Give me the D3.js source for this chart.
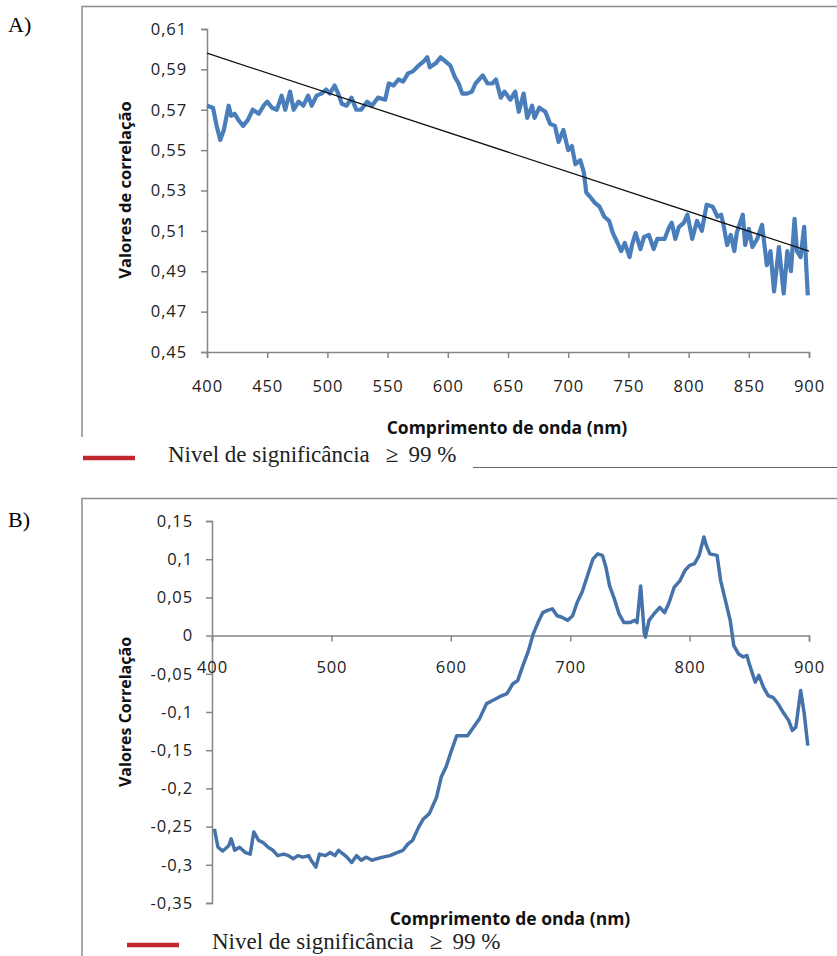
<!DOCTYPE html>
<html>
<head>
<meta charset="utf-8">
<script src="https://cdn.jsdelivr.net/npm/d3@7"></script>
<style>
  body { margin: 0; background: #fff; }
  svg { display: block; }
  .tick text { font-family: "Open Sans", sans-serif; fill: #222; }
  .axis path, .axis line { stroke: #868686; }
</style>
</head>
<body>
<script>
// Panel A: correlation vs wavelength
const nmA = [400,405,408,411,414,418,420,423,426,430,434,438,443,447,450,454,458,462,465,469,472,476,480,484,487,491,495,499,502,506,509,512,516,520,524,528,533,537,542,548,551,555,559,563,567,571,576,580,583,585,590,594,598,602,606,609,612,616,620,623,629,633,637,640,644,647,652,656,659,663,666,670,672,676,681,685,689,692,696,700,703,706,710,713,715,718,722,726,730,734,737,741,744,747,751,753,756,760,763,767,771,774,780,784,786,789,792,796,799,803,807,811,815,820,824,827,829,832,835,838,840,845,847,850,853,857,861,865,868,871,875,879,882,885,888,890,893,896,899];
const valA = [0.572,0.571,0.562,0.555,0.560,0.572,0.567,0.568,0.565,0.562,0.565,0.570,0.568,0.572,0.574,0.571,0.570,0.577,0.570,0.579,0.570,0.574,0.572,0.577,0.572,0.577,0.578,0.580,0.578,0.582,0.578,0.573,0.572,0.576,0.570,0.570,0.574,0.572,0.576,0.575,0.583,0.582,0.585,0.584,0.588,0.589,0.592,0.594,0.596,0.591,0.593,0.596,0.594,0.592,0.586,0.583,0.578,0.578,0.579,0.583,0.587,0.583,0.583,0.585,0.576,0.579,0.575,0.579,0.569,0.578,0.566,0.572,0.566,0.571,0.569,0.563,0.562,0.554,0.560,0.550,0.552,0.543,0.545,0.539,0.529,0.527,0.524,0.522,0.517,0.515,0.509,0.504,0.500,0.504,0.497,0.503,0.509,0.501,0.507,0.508,0.501,0.506,0.506,0.512,0.514,0.506,0.512,0.514,0.518,0.506,0.515,0.510,0.523,0.522,0.517,0.518,0.513,0.503,0.508,0.500,0.509,0.518,0.503,0.511,0.502,0.506,0.513,0.493,0.500,0.480,0.502,0.479,0.500,0.490,0.516,0.500,0.497,0.512,0.478];
// linear trend drawn in panel A
const trendNm = [400, 900];
const trendVal = [0.598, 0.500];
const yTicksA = [0.45,0.47,0.49,0.51,0.53,0.55,0.57,0.59,0.61];
const xTicksA = [400,450,500,550,600,650,700,750,800,850,900];

// Panel B
const nmB = [402,405,409,414,416,419,423,428,432,435,439,443,447,451,455,460,464,468,472,476,481,483,487,490,495,499,503,506,510,513,517,521,525,529,534,538,543,549,555,560,564,568,573,577,582,588,592,596,600,605,610,614,619,624,630,635,641,647,652,656,660,665,669,673,677,681,685,689,693,698,702,706,710,715,719,723,727,730,733,737,741,745,750,754,756,759,762,763,766,770,775,779,783,787,792,796,800,804,808,812,814,817,823,826,830,834,837,841,845,848,850,855,858,862,866,870,874,879,883,886,889,893,896,899];
const valB = [-0.253,-0.277,-0.282,-0.275,-0.266,-0.281,-0.277,-0.284,-0.286,-0.257,-0.268,-0.271,-0.277,-0.281,-0.288,-0.286,-0.288,-0.292,-0.288,-0.290,-0.288,-0.294,-0.303,-0.286,-0.288,-0.284,-0.288,-0.281,-0.286,-0.290,-0.297,-0.288,-0.294,-0.290,-0.294,-0.292,-0.290,-0.288,-0.284,-0.281,-0.273,-0.268,-0.251,-0.240,-0.233,-0.212,-0.185,-0.172,-0.153,-0.131,-0.131,-0.131,-0.120,-0.109,-0.089,-0.085,-0.080,-0.076,-0.063,-0.059,-0.041,-0.020,0.002,0.017,0.030,0.033,0.035,0.026,0.024,0.020,0.026,0.044,0.057,0.081,0.100,0.107,0.105,0.089,0.065,0.048,0.028,0.017,0.017,0.020,0.017,0.065,0.004,-0.002,0.020,0.028,0.037,0.030,0.044,0.063,0.072,0.085,0.092,0.094,0.105,0.129,0.118,0.107,0.105,0.072,0.046,0.020,-0.013,-0.024,-0.028,-0.026,-0.037,-0.061,-0.052,-0.068,-0.079,-0.081,-0.089,-0.102,-0.111,-0.124,-0.120,-0.072,-0.102,-0.144];
const yTicksB = [-0.35,-0.3,-0.25,-0.2,-0.15,-0.1,-0.05,0,0.05,0.1,0.15];
const xTicksB = [400,500,600,700,800,900];

const legendLabel = "Nivel de significância";
const W = 837, H = 956;

const svg = d3.select("body").append("svg").attr("width", W).attr("height", H);
const fmt = d => String(+d.toFixed(2)).replace(".", ",");

// ---------- panel A ----------
svg.append("text").attr("x", 8).attr("y", 32)
  .style("font-family", "Liberation Serif, serif").style("font-size", "22px").text("A)");
svg.append("path").attr("d", "M82,437V6.5H837").attr("fill", "none").attr("stroke", "#8c8c8c").attr("stroke-width", 1.5);

const xA = d3.scaleLinear().domain([400, 900]).range([207, 809]);
const yA = d3.scaleLinear().domain([0.45, 0.61]).range([352, 29]);

const gyA = svg.append("g").attr("class", "axis").attr("transform", "translate(207,0)")
  .call(d3.axisLeft(yA).tickValues(yTicksA).tickFormat(fmt).tickSizeOuter(0).tickSize(6).tickPadding(14));
const gxA = svg.append("g").attr("class", "axis").attr("transform", "translate(0,352)")
  .call(d3.axisBottom(xA).tickValues(xTicksA).tickSizeOuter(0).tickSize(6).tickPadding(22));
[gyA, gxA].forEach(g => {
  g.select(".domain").attr("stroke", "#868686").attr("stroke-width", 1.5);
  g.selectAll(".tick line").attr("stroke", "#868686").attr("stroke-width", 1.5);
  g.selectAll(".tick text").style("font-size", "16.5px").attr("fill", "#222").style("letter-spacing", "0.9px");
});

const lineA = d3.line().x((d, i) => xA(nmA[i])).y(d => yA(d));
svg.append("path").datum(valA).attr("d", lineA)
  .attr("fill", "none").attr("stroke", "#4a7ebb").attr("stroke-width", 4.2).attr("stroke-linejoin", "round");

const trendLine = d3.line().x((d, i) => xA(trendNm[i])).y(d => yA(d));
svg.append("path").datum(trendVal).attr("d", trendLine)
  .attr("fill", "none").attr("stroke", "#111").attr("stroke-width", 1.3);

svg.append("text").attr("transform", "translate(131,190) rotate(-90)").attr("text-anchor", "middle")
  .style("font-family", "Open Sans, sans-serif").style("font-weight", "bold").style("font-size", "16.5px")
  .attr("fill", "#111").text("Valores de correlação");
svg.append("text").attr("x", 507).attr("y", 434).attr("text-anchor", "middle")
  .style("font-family", "Open Sans, sans-serif").style("font-weight", "bold").style("font-size", "17.5px")
  .attr("fill", "#111").text("Comprimento de onda (nm)");

function legend(x0, y0, tx) {
  svg.append("line").attr("x1", x0).attr("x2", x0 + 52).attr("y1", y0).attr("y2", y0)
    .attr("stroke", "#c0282d").attr("stroke-width", 4.5);
  const t = svg.append("text").attr("x", tx).attr("y", y0 + 4)
    .style("font-family", "Liberation Serif, serif").style("font-size", "23px").attr("fill", "#222");
  t.append("tspan").text(legendLabel);
  t.append("tspan").attr("dx", 16).text("≥");
  t.append("tspan").attr("dx", 10).text("99 %");
}
legend(83, 458, 168);
svg.append("line").attr("x1", 473).attr("x2", 837).attr("y1", 467.5).attr("y2", 467.5)
  .attr("stroke", "#666").attr("stroke-width", 1.2);

// ---------- panel B ----------
svg.append("text").attr("x", 8).attr("y", 527)
  .style("font-family", "Liberation Serif, serif").style("font-size", "22px").text("B)");
svg.append("path").attr("d", "M82,956V498.5H837").attr("fill", "none").attr("stroke", "#8c8c8c").attr("stroke-width", 1.5);

const xB = d3.scaleLinear().domain([400, 900]).range([212, 809]);
const yB = d3.scaleLinear().domain([-0.35, 0.15]).range([903, 521]);

const gyB = svg.append("g").attr("class", "axis").attr("transform", "translate(212,0)")
  .call(d3.axisLeft(yB).tickValues(yTicksB).tickFormat(fmt).tickSizeOuter(0).tickSize(6).tickPadding(13));
const gxB = svg.append("g").attr("class", "axis").attr("transform", `translate(0,${yB(0)})`)
  .call(d3.axisBottom(xB).tickValues(xTicksB).tickSizeOuter(0).tickSize(6).tickPadding(20));
[gyB, gxB].forEach(g => {
  g.select(".domain").attr("stroke", "#868686").attr("stroke-width", 1.5);
  g.selectAll(".tick line").attr("stroke", "#868686").attr("stroke-width", 1.5);
  g.selectAll(".tick text").style("font-size", "16.5px").attr("fill", "#222").style("letter-spacing", "0.9px");
});

const lineB = d3.line().x((d, i) => xB(nmB[i])).y(d => yB(d));
svg.append("path").datum(valB).attr("d", lineB)
  .attr("fill", "none").attr("stroke", "#4672aa").attr("stroke-width", 3.5).attr("stroke-linejoin", "round");

svg.append("text").attr("transform", "translate(131,712) rotate(-90)").attr("text-anchor", "middle")
  .style("font-family", "Open Sans, sans-serif").style("font-weight", "bold").style("font-size", "16px")
  .attr("fill", "#111").text("Valores Correlação");
svg.append("text").attr("x", 510).attr("y", 925).attr("text-anchor", "middle")
  .style("font-family", "Open Sans, sans-serif").style("font-weight", "bold").style("font-size", "17.5px")
  .attr("fill", "#111").text("Comprimento de onda (nm)");

legend(127, 945, 212);
</script>
</body>
</html>
